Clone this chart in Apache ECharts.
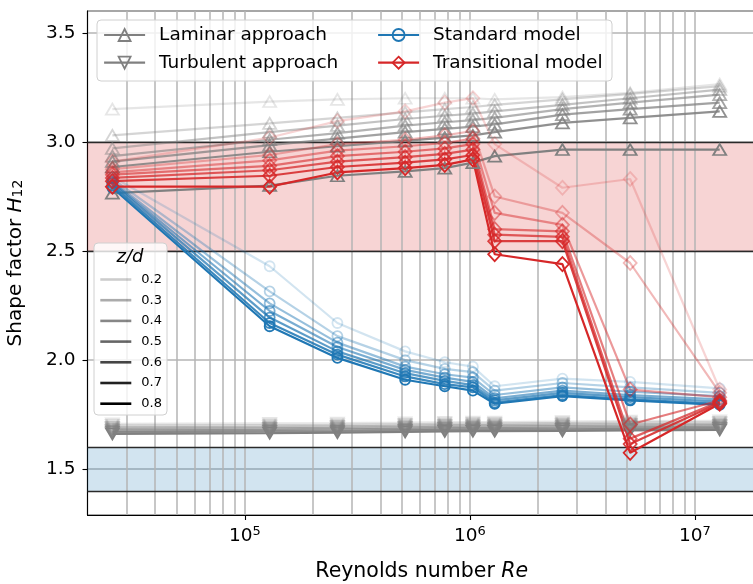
<!DOCTYPE html>
<html><head><meta charset="utf-8">
<script src="https://cdn.jsdelivr.net/npm/echarts@6/dist/echarts.min.js"></script>
<style>html,body{margin:0;padding:0;background:#fff}#c{width:753px;height:584px}</style>
</head><body><div id="c"></div>
<script>
// ---- data ----
const reynolds = [25800, 129000, 258000, 516000, 774000, 1032000, 1290000, 2580000, 5160000, 12900000];
const zdLabels = ['0.2', '0.3', '0.4', '0.5', '0.6', '0.7', '0.8'];
const xTickExponents = [5, 6, 7];
const yTickLabels = ['1.5', '2.0', '2.5', '3.0', '3.5'];

const laminarApproach = [
  [3.15, 3.185, 3.195, 3.20, 3.20, 3.20, 3.195, 3.205, 3.225, 3.265],
  [3.03, 3.085, 3.11, 3.135, 3.15, 3.16, 3.17, 3.195, 3.22, 3.255],
  [2.97, 3.045, 3.075, 3.105, 3.12, 3.13, 3.14, 3.17, 3.20, 3.24],
  [2.935, 3.01, 3.04, 3.075, 3.09, 3.10, 3.11, 3.15, 3.18, 3.217],
  [2.91, 2.985, 3.015, 3.045, 3.06, 3.07, 3.08, 3.125, 3.15, 3.18],
  [2.885, 2.955, 2.98, 3.005, 3.02, 3.03, 3.045, 3.087, 3.11, 3.14],
  [2.765, 2.80, 2.845, 2.865, 2.88, 2.905, 2.935, 2.965, 2.965, 2.965]
];
const turbulentApproach = [
  [1.708, 1.71, 1.711, 1.713, 1.715, 1.716, 1.716, 1.718, 1.72, 1.722],
  [1.70, 1.702, 1.703, 1.706, 1.708, 1.709, 1.709, 1.711, 1.713, 1.715],
  [1.692, 1.694, 1.696, 1.699, 1.701, 1.702, 1.702, 1.704, 1.706, 1.708],
  [1.685, 1.687, 1.689, 1.692, 1.694, 1.695, 1.695, 1.697, 1.699, 1.701],
  [1.677, 1.68, 1.682, 1.685, 1.687, 1.688, 1.688, 1.69, 1.692, 1.694],
  [1.67, 1.673, 1.675, 1.678, 1.68, 1.681, 1.681, 1.683, 1.685, 1.687],
  [1.662, 1.665, 1.668, 1.671, 1.673, 1.674, 1.674, 1.676, 1.678, 1.68]
];
const standardModel = [
  [2.84, 2.43, 2.17, 2.04, 1.99, 1.97, 1.88, 1.915, 1.90, 1.87],
  [2.83, 2.315, 2.11, 2.00, 1.96, 1.945, 1.86, 1.895, 1.875, 1.85],
  [2.82, 2.26, 2.08, 1.97, 1.935, 1.92, 1.84, 1.875, 1.855, 1.835],
  [2.815, 2.225, 2.06, 1.955, 1.92, 1.90, 1.825, 1.86, 1.84, 1.82],
  [2.81, 2.195, 2.04, 1.94, 1.905, 1.885, 1.815, 1.85, 1.83, 1.81],
  [2.80, 2.17, 2.025, 1.925, 1.89, 1.875, 1.805, 1.84, 1.82, 1.80],
  [2.79, 2.155, 2.01, 1.91, 1.88, 1.86, 1.80, 1.835, 1.815, 1.795]
];
const transitionalModel = [
  [2.91, 3.02, 3.095, 3.14, 3.18, 3.20, 2.99, 2.79, 2.83, 1.865],
  [2.875, 2.94, 2.99, 3.01, 3.03, 3.05, 2.75, 2.675, 2.445, 1.85],
  [2.86, 2.915, 2.96, 2.98, 2.995, 3.015, 2.675, 2.62, 1.865, 1.83],
  [2.85, 2.89, 2.935, 2.955, 2.97, 2.99, 2.60, 2.59, 1.705, 1.815],
  [2.835, 2.87, 2.91, 2.93, 2.945, 2.965, 2.575, 2.565, 1.64, 1.81],
  [2.82, 2.845, 2.885, 2.905, 2.92, 2.94, 2.545, 2.545, 1.615, 1.805],
  [2.795, 2.795, 2.86, 2.88, 2.895, 2.92, 2.485, 2.44, 1.575, 1.80]
];

// ---- styling ----
const FONT = 'DejaVu Sans';
const alphas = [0.2, 0.33, 0.47, 0.6, 0.73, 0.87, 1.0];
const GRAY = '128,128,128', BLUE = '31,119,180', RED = '214,39,40';
const rgba = (c, a) => `rgba(${c},${a})`;

function makeSeries(name, values, color, symbol, size, rotate) {
  return values.map((vals, i) => ({
    type: 'line', name: name,
    data: reynolds.map((x, j) => [x, vals[j]]),
    symbol: symbol, symbolSize: size, symbolRotate: rotate || 0,
    lineStyle: { color: rgba(color, alphas[i]), width: 2.2 },
    itemStyle: { color: 'rgba(0,0,0,0)', borderColor: rgba(color, alphas[i]), borderWidth: 1.8 },
    emphasis: { disabled: true }, silent: true, z: 3, animation: false
  }));
}

// gridline positions (log axis minor + major)
const vGrid = [];
for (let e = 4; e <= 7; e++) {
  for (let m = 1; m <= 9; m++) {
    const v = m * Math.pow(10, e);
    if (v > 20000 && v < 1.87e7) vGrid.push(v);
  }
}

const bgSeries = {
  type: 'line', name: 'bg', data: [], silent: true, z: 1, animation: false,
  markArea: {
    silent: true, z: 1,
    data: [
      [{ yAxis: 2.5, itemStyle: { color: 'rgba(214,39,40,0.2)' } }, { yAxis: 3.0 }],
      [{ yAxis: 1.4, itemStyle: { color: 'rgba(31,119,180,0.2)' } }, { yAxis: 1.6 }]
    ]
  },
  markLine: {
    silent: true, z: 1.5, symbol: ['none', 'none'], label: { show: false }, animation: false,
    data: vGrid.map(v => ({ xAxis: v, lineStyle: { color: '#b4b4b4', width: 1.5, type: 'solid' } }))
      .concat([3.0, 2.5, 1.6, 1.4].map(v => ({ yAxis: v, lineStyle: { color: '#2a2a2a', width: 1.3, type: 'solid' } })))
  }
};

const series = [bgSeries]
  .concat(makeSeries('Laminar approach', laminarApproach, GRAY, 'triangle', [13, 11], 0))
  .concat(makeSeries('Turbulent approach', turbulentApproach, GRAY, 'triangle', [13, 11], 180))
  .concat(makeSeries('Standard model', standardModel, BLUE, 'circle', 10, 0))
  .concat(makeSeries('Transitional model', transitionalModel, RED, 'diamond', [13, 14], 0))
  .concat(zdLabels.map((z, i) => ({
    type: 'line', name: z, data: [], symbol: 'none',
    itemStyle: { color: 'rgba(0,0,0,0)', borderWidth: 0 },
    lineStyle: { color: rgba('0,0,0', alphas[i]), width: 2.5 }
  })));

const legItem = (name, color) => ({
  name: name,
  itemStyle: { color: 'rgba(0,0,0,0)', borderColor: rgba(color, 1), borderWidth: 1.8 },
  lineStyle: { color: rgba(color, 1), width: 2.2 }
});
const legText = { fontSize: 18.5, fontFamily: FONT, color: '#000', lineHeight: 20, padding: [0, 0, 0, 9] };

const option = {
  animation: false,
  backgroundColor: '#fff',
  grid: { left: 87.5, right: -3, top: 11, bottom: 69, outerBoundsMode: 'none', containLabel: false,
    show: true, borderColor: '#000', borderWidth: 1.1, backgroundColor: 'rgba(0,0,0,0)' },
  xAxis: {
    type: 'log', min: 20000, max: 1.87e7, logBase: 10,
    name: 'Reynolds number {i|Re}', nameLocation: 'middle', nameGap: 46,
    nameTextStyle: { fontSize: 20.5, fontFamily: FONT, color: '#000', rich: { i: { fontSize: 20.5, fontFamily: FONT, fontStyle: 'italic', color: '#000' } } },
    axisLine: { show: true, lineStyle: { color: '#000', width: 1.1 } },
    axisTick: { show: true, length: 5, inside: false, lineStyle: { color: '#000', width: 1.1 } },
    splitLine: { show: false },
    axisLabel: {
      showMinLabel: false, showMaxLabel: false, margin: 10, color: '#000',
      formatter: v => {
        const e = Math.round(Math.log10(v));
        if (xTickExponents.indexOf(e) < 0) return '';
        return '{b|10}{s|' + e + '}';
      },
      rich: {
        b: { fontSize: 18.5, fontFamily: FONT, color: '#000' },
        s: { fontSize: 13, fontFamily: FONT, color: '#000', padding: [0, 0, 9, 0] }
      }
    }
  },
  yAxis: {
    type: 'value', min: 1.29, max: 3.6,
    name: '{a|Shape factor }{i|H}{s|12}', nameLocation: 'middle', nameGap: 57, nameRotate: 90,
    nameTextStyle: {
      color: '#000',
      rich: {
        a: { fontSize: 20, fontFamily: FONT, color: '#000', padding: [0, 0, 5, 0] },
        i: { fontSize: 20, fontFamily: FONT, fontStyle: 'italic', color: '#000', padding: [0, 0, 5, 0] },
        s: { fontSize: 14, fontFamily: FONT, color: '#000' }
      }
    },
    axisLine: { show: true, lineStyle: { color: '#000', width: 1.1 } },
    axisTick: { show: true, length: 5, inside: false, lineStyle: { color: '#000', width: 1.1 } },
    splitLine: { show: true, lineStyle: { color: '#b4b4b4', width: 1.5 } },
    axisLabel: {
      showMinLabel: false, showMaxLabel: false, margin: 12, color: '#000',
      fontSize: 18.5, fontFamily: FONT,
      formatter: v => {
        const s = v.toFixed(1);
        return yTickLabels.indexOf(s) >= 0 ? s : '';
      }
    }
  },
  legend: [
    {
      orient: 'vertical', left: 103, top: 25, itemWidth: 41, itemHeight: 15, itemGap: 7.7, padding: 0,
      selectedMode: false, z: 20, textStyle: legText,
      data: [legItem('Laminar approach', GRAY), legItem('Turbulent approach', GRAY)]
    },
    {
      orient: 'vertical', left: 377, top: 25, itemWidth: 41, itemHeight: 15, itemGap: 7.7, padding: 0,
      selectedMode: false, z: 20, textStyle: legText,
      data: [legItem('Standard model', BLUE), legItem('Transitional model', RED)]
    },
    {
      orient: 'vertical', left: 99, top: 272, itemWidth: 31, itemHeight: 10, itemGap: 5.7, padding: 0,
      selectedMode: false, z: 20,
      textStyle: { fontSize: 13, fontFamily: FONT, color: '#000', lineHeight: 15, padding: [0, 0, 0, 5] },
      data: zdLabels.map((z, i) => ({
        name: z,
        itemStyle: { color: 'rgba(0,0,0,0)', borderWidth: 0, borderColor: 'rgba(0,0,0,0)' },
        lineStyle: { color: rgba('0,0,0', alphas[i]), width: 2.6 }
      }))
    }
  ],
  graphic: [
    { type: 'rect', z: 15, silent: true, shape: { x: 97, y: 20, width: 515, height: 61, r: 4 },
      style: { fill: 'rgba(255,255,255,0.8)', stroke: '#d0d0d0', lineWidth: 1 } },
    { type: 'rect', z: 15, silent: true, shape: { x: 94, y: 243, width: 73, height: 172, r: 4 },
      style: { fill: 'rgba(255,255,255,0.8)', stroke: '#d0d0d0', lineWidth: 1 } },
    { type: 'text', z: 21, silent: true, x: 130, y: 257,
      style: { text: 'z/d', fontSize: 18, fontFamily: FONT, fontStyle: 'italic', fill: '#000', align: 'center', verticalAlign: 'middle' } }
  ],
  series: series
};

const chart = echarts.init(document.getElementById('c'), null, { renderer: 'canvas' });
chart.setOption(option);
</script>
</body></html>
